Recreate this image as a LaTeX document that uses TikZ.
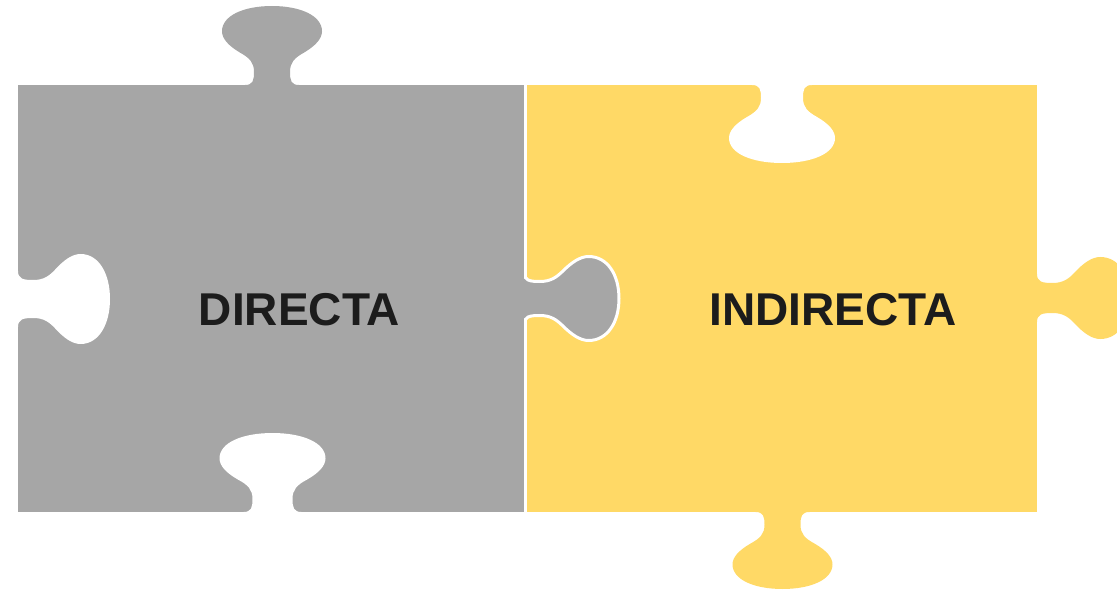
\documentclass[tikz,border=0pt]{standalone}
\usepackage{fontspec}
\setmainfont{Liberation Sans}
\definecolor{pzgray}{HTML}{A6A6A6}
\definecolor{pzyellow}{HTML}{FFD966}
\definecolor{pztext}{HTML}{1C1C1C}
% #1 = neck half width, #2 = head half width, #3 = length (outward = +y)
\newcommand\pzltab[3]{(-#1-9,-2) -- (-#1-9,0)
 .. controls (-#1-1,0) and (-#1,0.06*#3) .. (-#1,0.165*#3)
 .. controls (-#1,0.28*#3) and (-#1-4,0.34*#3) .. (-0.5*#1-0.5*#2+2,0.41*#3)
 .. controls (-#2+6,0.5*#3) and (-#2,0.59*#3) .. (-#2,0.68*#3)
 .. controls (-#2,0.88*#3) and (-0.56*#2,#3) .. (0,#3)
 .. controls (0.56*#2,#3) and (#2,0.88*#3) .. (#2,0.68*#3)
 .. controls (#2,0.59*#3) and (#2-6,0.5*#3) .. (0.5*#1+0.5*#2-2,0.41*#3)
 .. controls (#1+4,0.34*#3) and (#1,0.28*#3) .. (#1,0.165*#3)
 .. controls (#1,0.06*#3) and (#1+1,0) .. (#1+9,0)
 -- (#1+9,-2) -- cycle}
\tikzset{
  graypiece/.style={fill=pzgray},
  yellowpiece/.style={fill=pzyellow},
  hole/.style={fill=white},
  label/.style={font=\bfseries\fontsize{46}{50}\selectfont, text=pztext, inner sep=0pt, anchor=base}
}
\begin{document}
\begin{tikzpicture}[x=1pt,y=1pt]
\useasboundingbox (0,0) rectangle (1117,590);
\clip (0,0) rectangle (1117,590);
% yellow piece
\fill[yellowpiece] (527,78) rectangle (1037,505);
\fill[hole, shift={(782,505)}, rotate=180] \pzltab{21}{53}{78};
\fill[yellowpiece, shift={(1037,292)}, rotate=-90] \pzltab{15}{41}{93};
\fill[yellowpiece, shift={(782.5,78)}, rotate=180] \pzltab{18}{50}{77};
% gray piece
\filldraw[graypiece, draw=white, line width=3, shift={(524,291.5)}, rotate=-90] \pzltab{17}{42}{95};
\fill[graypiece] (18,78) rectangle (524,505);
\fill[graypiece, shift={(272,505)}] \pzltab{18}{50}{79};
\fill[hole, shift={(18,291)}, rotate=-90] \pzltab{19}{45}{92};
\fill[hole, shift={(272.5,78)}] \pzltab{20}{53}{79};
% labels
\node[label] (directa) at (299.5,265) {DIRECTA};
\node[label] (indirecta) at (833,265) {INDIRECTA};
\end{tikzpicture}
\end{document}
